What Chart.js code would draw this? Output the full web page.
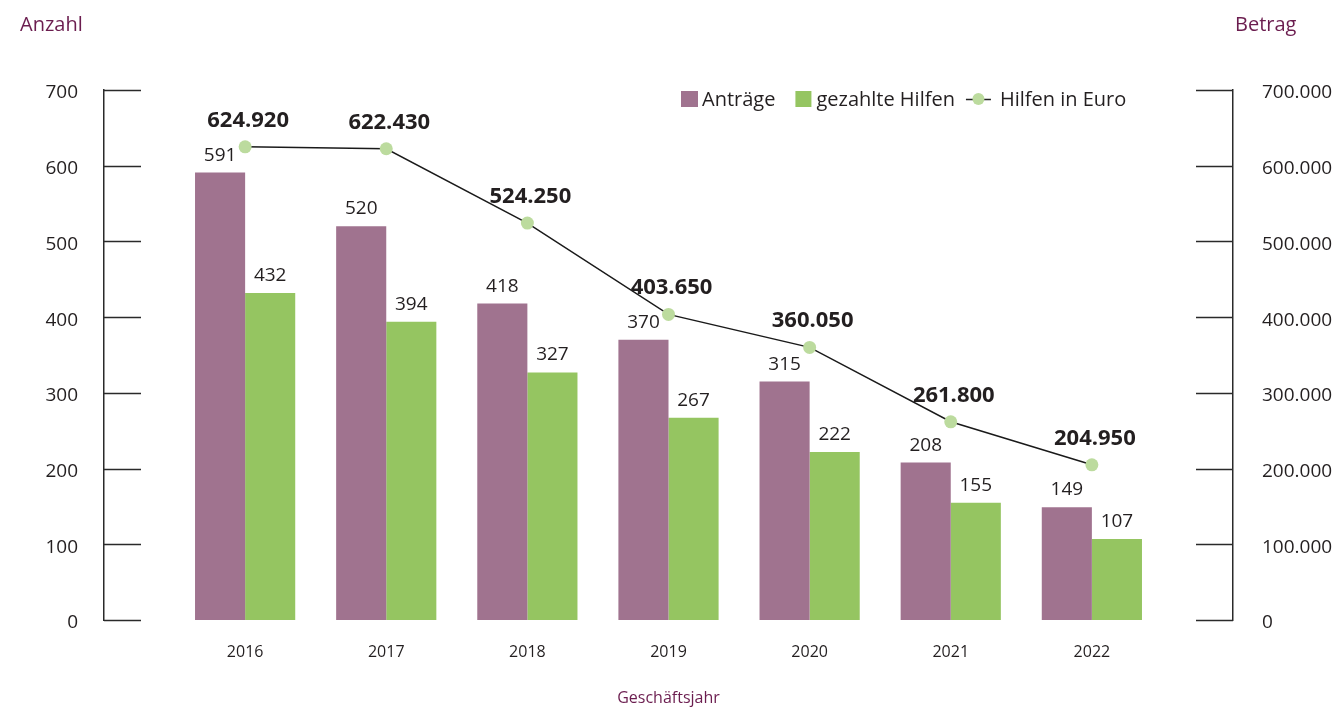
<!DOCTYPE html>
<html>
<head>
<meta charset="utf-8">
<script src="https://cdn.jsdelivr.net/npm/chart.js@4.4.1/dist/chart.umd.min.js"></script>
<style>
html,body{margin:0;padding:0;background:#ffffff;}
#wrap{width:1339px;height:708px;position:relative;}
</style>
</head>
<body>
<div id="wrap"><canvas id="c" width="1339" height="708"></canvas></div>
<script>
// ---- data ----
const years = ['2016', '2017', '2018', '2019', '2020', '2021', '2022'];
const antraege = [591, 520, 418, 370, 315, 208, 149];
const gezahlteHilfen = [432, 394, 327, 267, 222, 155, 107];
const hilfenEuro = [624920, 622430, 524250, 403650, 360050, 261800, 204950];
const countTicks = [0, 100, 200, 300, 400, 500, 600, 700];
const amountTicks = [0, 100000, 200000, 300000, 400000, 500000, 600000, 700000];
const seriesNames = ['Anträge', 'gezahlte Hilfen', 'Hilfen in Euro'];
const axisTitles = { left: 'Anzahl', right: 'Betrag', bottom: 'Geschäftsjahr' };

// ---- styles ----
const FONT = "'Open Sans', 'Noto Sans', sans-serif";
const TEXT = '#231f20';
const PURPLE_TEXT = '#6b1d4f';
const C_ANTR = '#a0738f';
const C_HILF = '#95c561';
const C_POINT = '#bcdb9e';
const AXIS = '#2a2a2a';

const fmt = v => String(v).replace(/\B(?=(\d{3})+(?!\d))/g, '.');
const toXY = arr => arr.map((v, i) => ({ x: i, y: v }));

const decorPlugin = {
  id: 'decor',
  afterDraw(chart) {
    const ctx = chart.ctx;
    const ca = chart.chartArea;
    ctx.save();
    // inward tick marks on both value axes
    ctx.strokeStyle = AXIS;
    ctx.lineWidth = 1.5;
    const yL = chart.scales.y, yR = chart.scales.y1;
    countTicks.forEach(v => {
      const py = Math.round(yL.getPixelForValue(v)) + 0.5;
      ctx.beginPath(); ctx.moveTo(ca.left, py); ctx.lineTo(ca.left + 37, py); ctx.stroke();
    });
    amountTicks.forEach(v => {
      const py = Math.round(yR.getPixelForValue(v)) + 0.5;
      ctx.beginPath(); ctx.moveTo(ca.right - 37, py); ctx.lineTo(ca.right, py); ctx.stroke();
    });

    // data labels
    ctx.fillStyle = TEXT;
    ctx.textAlign = 'center';
    ctx.textBaseline = 'alphabetic';
    ctx.font = '19px ' + FONT;
    [0, 1].forEach(di => {
      const meta = chart.getDatasetMeta(di);
      const vals = chart.data.datasets[di].data;
      meta.data.forEach((el, i) => {
        ctx.fillText(String(vals[i].y), el.x, el.y - 12);
      });
    });
    ctx.font = 'bold 22px ' + FONT;
    const lm = chart.getDatasetMeta(2);
    lm.data.forEach((el, i) => {
      ctx.fillText(fmt(hilfenEuro[i]), el.x + 3, el.y - 20);
    });

    // axis titles (horizontal, top corners)
    ctx.fillStyle = PURPLE_TEXT;
    ctx.font = '20px ' + FONT;
    ctx.textAlign = 'left';
    ctx.fillText(axisTitles.left, 20, 31);
    ctx.fillText(axisTitles.right, 1235, 31);

    // legend
    ctx.font = '20px ' + FONT;
    let x = 681;
    const cy = 99;
    ctx.fillStyle = C_ANTR; ctx.fillRect(x, cy - 8, 17, 16);
    x += 21;
    ctx.fillStyle = TEXT; ctx.fillText(seriesNames[0], x, cy + 7);
    x += ctx.measureText(seriesNames[0]).width + 20;
    ctx.fillStyle = C_HILF; ctx.fillRect(x, cy - 8, 16, 16);
    x += 21;
    ctx.fillStyle = TEXT; ctx.fillText(seriesNames[1], x, cy + 7);
    x += ctx.measureText(seriesNames[1]).width + 11;
    ctx.strokeStyle = '#222'; ctx.lineWidth = 1.5;
    ctx.beginPath(); ctx.moveTo(x, cy + 0.5); ctx.lineTo(x + 25, cy + 0.5); ctx.stroke();
    ctx.fillStyle = C_POINT;
    ctx.beginPath(); ctx.arc(x + 12.5, cy, 6, 0, Math.PI * 2); ctx.fill();
    x += 34;
    ctx.fillStyle = TEXT; ctx.fillText(seriesNames[2], x, cy + 7);
    ctx.restore();
  }
};

new Chart(document.getElementById('c'), {
  data: {
    datasets: [
      {
        type: 'bar', label: seriesNames[0], data: toXY(antraege), yAxisID: 'y',
        backgroundColor: C_ANTR, borderWidth: 0, categoryPercentage: 0.71, barPercentage: 1.0, order: 2
      },
      {
        type: 'bar', label: seriesNames[1], data: toXY(gezahlteHilfen), yAxisID: 'y',
        backgroundColor: C_HILF, borderWidth: 0, categoryPercentage: 0.71, barPercentage: 1.0, order: 2
      },
      {
        type: 'line', label: seriesNames[2], data: toXY(hilfenEuro), yAxisID: 'y1',
        borderColor: '#1a1a1a', borderWidth: 1.5, pointRadius: 6.5, pointHoverRadius: 6.5,
        pointBackgroundColor: C_POINT, pointBorderWidth: 0, tension: 0, order: 1
      }
    ]
  },
  options: {
    responsive: false,
    animation: false,
    devicePixelRatio: 1,
    layout: { padding: { top: 90, left: 0, right: 0, bottom: 0 } },
    plugins: { legend: { display: false }, tooltip: { enabled: false } },
    scales: {
      x: {
        type: 'linear', min: -1, max: 7, offset: false,
        afterBuildTicks: s => { s.ticks = years.map((_, i) => ({ value: i })); },
        ticks: {
          callback: v => years[v] !== undefined ? years[v] : '',
          font: { family: FONT, size: 16 }, color: TEXT, padding: 23, maxRotation: 0, autoSkip: false
        },
        grid: { display: false, drawTicks: false, offset: false },
        border: { display: false },
        title: {
          display: true, text: axisTitles.bottom, color: PURPLE_TEXT,
          font: { family: FONT, size: 16 }, padding: { top: 0, bottom: 0 }
        },
        afterFit: s => { s.height = 88; }
      },
      y: {
        position: 'left', min: 0, max: 700,
        afterBuildTicks: s => { s.ticks = countTicks.map(v => ({ value: v })); },
        ticks: { font: { family: FONT, size: 19 }, color: TEXT, padding: 26, labelOffset: 3 },
        grid: { display: false, drawTicks: false },
        border: { display: true, color: AXIS, width: 1.5 },
        afterFit: s => { s.width = 104; }
      },
      y1: {
        position: 'right', min: 0, max: 700000,
        afterBuildTicks: s => { s.ticks = amountTicks.map(v => ({ value: v })); },
        ticks: { font: { family: FONT, size: 19 }, color: TEXT, padding: 29, labelOffset: 3, callback: v => fmt(v) },
        grid: { display: false, drawTicks: false },
        border: { display: true, color: AXIS, width: 1.5 },
        afterFit: s => { s.width = 106; }
      }
    }
  },
  plugins: [decorPlugin]
});
</script>
</body>
</html>
